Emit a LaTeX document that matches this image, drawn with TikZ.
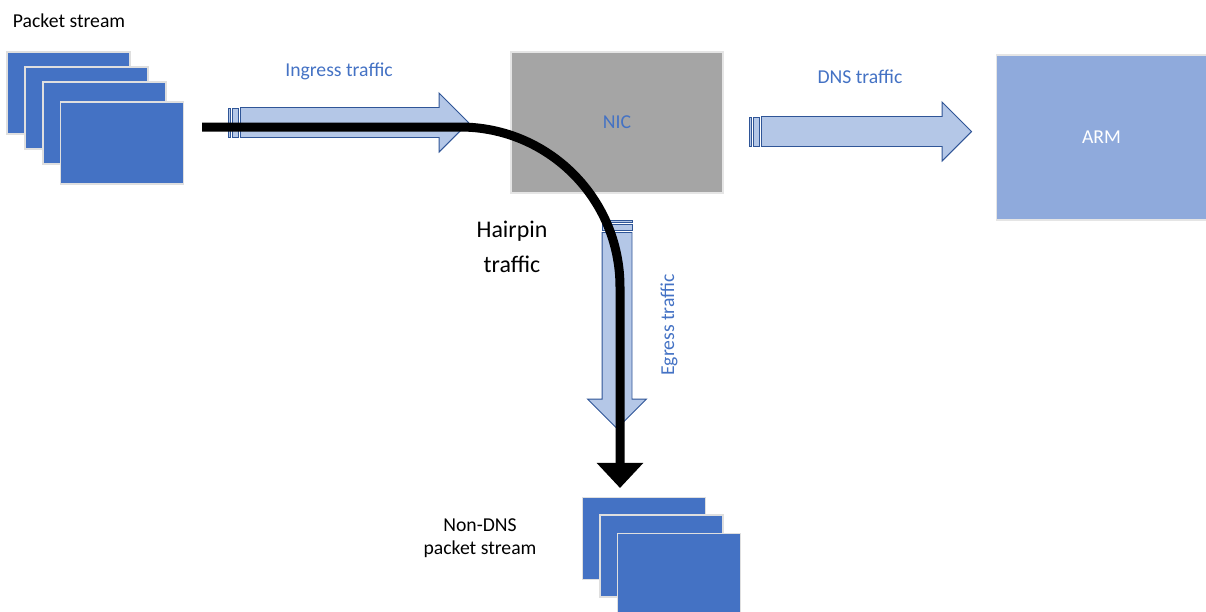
\documentclass[tikz,border=0pt]{standalone}
\usepackage{fontspec}
\setmainfont{Carlito}
\usepackage{tikz}
\usetikzlibrary{positioning,arrows.meta,shapes.arrows,calc}
\definecolor{pktblue}{HTML}{4472C4}
\definecolor{nicgray}{HTML}{A5A5A5}
\definecolor{armblue}{HTML}{8FAADC}
\definecolor{arrfill}{HTML}{B4C7E7}
\definecolor{arrline}{HTML}{2F5597}
\definecolor{lbl}{HTML}{4472C4}

\begin{document}
\begin{tikzpicture}[x=0.025cm,y=-0.025cm,font=\fontsize{14}{16.5}\selectfont,
  pkt/.style={draw=white!75!gray,fill=pktblue,line width=0.8pt,minimum width=3.075cm,minimum height=2.05cm,inner sep=0pt},
  box/.style={draw=white!80!gray,line width=0.8pt,inner sep=0pt},
  blk/.style={single arrow,draw=arrline,fill=arrfill,line width=0.7pt,inner sep=0.3625cm,
    single arrow head extend=0.3625cm,single arrow tip angle=90,anchor=tail},
  strp/.style={draw=arrline,fill=arrfill,line width=0.6pt},
  hair/.style={line width=6.4pt,-{Triangle[width=1.125cm,length=0.625cm]}},
  lab/.style={text=lbl}]
\useasboundingbox (0,0) rectangle (1206,612);
% incoming packets
\node[pkt](in1) at (68.5,93){};
\node[pkt](in2) at (86.5,108){};
\node[pkt](in3) at (104.5,123){};
\node[pkt](in4) at (122,143){};
\node[anchor=west](inlbl) at (8,21){Packet stream};
% NIC and ARM
\node[box,fill=nicgray,minimum width=5.3cm,minimum height=3.525cm,text=lbl](nic) at (617,122.5){NIC};
\node[box,fill=armblue,minimum width=5.25cm,minimum height=4.125cm,text=white](arm) at (1101.5,137.5){ARM};
% block arrows
\node[blk,minimum height=5.7cm](ing) at (240,122.5){};
\draw[strp]($(ing.tail)+(-12,-14.5)$) rectangle ($(ing.tail)+(-10,14.5)$);
\draw[strp]($(ing.tail)+(-8,-14.5)$) rectangle ($(ing.tail)+(-2,14.5)$);
\node[lab](inglbl) at (339,71){Ingress traffic};
\node[blk,minimum height=5.25cm](dns) at (761,131.5){};
\draw[strp]($(dns.tail)+(-12,-14.5)$) rectangle ($(dns.tail)+(-9.5,14.5)$);
\draw[strp]($(dns.tail)+(-7.5,-14.5)$) rectangle ($(dns.tail)+(-2,14.5)$);
\node[lab](dnslbl) at (860,77){DNS traffic};
\node[blk,shape border rotate=270,minimum height=4.9cm](egr) at (617,232){};
\draw[strp]($(egr.tail)+(-15,-12)$) rectangle ($(egr.tail)+(15,-9.5)$);
\draw[strp]($(egr.tail)+(-15,-7.5)$) rectangle ($(egr.tail)+(15,-2)$);
\node[lab,rotate=90](egrlbl) at (669,325){Egress traffic};
% outgoing packets
\node[pkt](out1) at (644,538.5){};
\node[pkt](out2) at (661.5,556){};
\node[pkt](out3) at (679,574.5){};
\node[align=center](outlbl) at (480,538){Non-DNS\\packet stream};
% hairpin path
\coordinate(hps) at (202,127);
\coordinate(hpe) at (620,488);
\draw[hair](hps) -- (460,127) .. controls (548.4,127) and (620,198.6) .. (620,287) -- (hpe);
\node[align=center,font=\fontsize{17}{24.8}\selectfont](hplbl) at (512,247){Hairpin\\traffic};
\end{tikzpicture}
\end{document}
